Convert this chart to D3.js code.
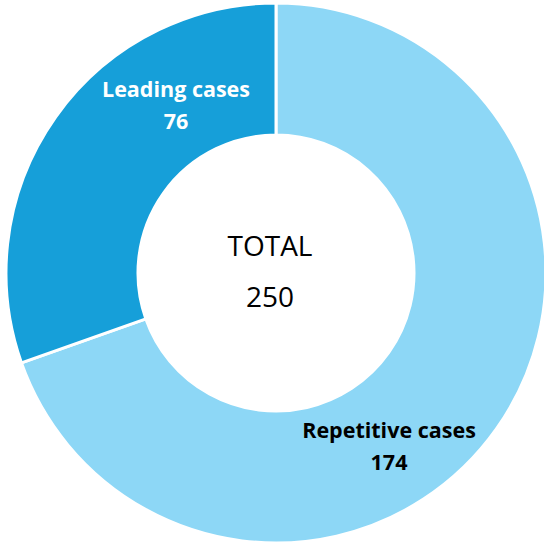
<!DOCTYPE html>
<html>
<head>
<meta charset="utf-8">
<script src="https://cdn.jsdelivr.net/npm/d3@7"></script>
<style>
body { margin: 0; background: #fff; }
</style>
</head>
<body>
<script>
// chart data
var categories = ["Repetitive cases", "Leading cases"];
var values = [174, 76];
var colors = ["#8DD7F6", "#169FD9"];
var labelColors = ["#000000", "#ffffff"];
var totalLabel = "TOTAL";

var width = 544, height = 544;
var cx = 276, cy = 273;
var outerR = 270, innerR = 138;

var svg = d3.select("body")
	.append("svg")
	.attr("width", width)
	.attr("height", height);

var g = svg.append("g").attr("transform", "translate(" + cx + "," + cy + ")");

var pie = d3.pie().sort(null).value(function(d) { return d; });
var arc = d3.arc().innerRadius(innerR).outerRadius(outerR);

var arcs = pie(values);

g.selectAll("path")
	.data(arcs)
	.enter()
	.append("path")
	.attr("d", arc)
	.attr("fill", function(d, i) { return colors[i]; })
	.attr("stroke", "#fff")
	.attr("stroke-width", 3);

// label spots, hand placed like the original (offset from centre)
var labelPos = [[113, 165], [-100, -176]];

var labels = g.selectAll("text.lbl")
	.data(arcs)
	.enter()
	.append("text")
	.attr("class", "lbl")
	.attr("text-anchor", "middle")
	.attr("font-family", "'Open Sans', sans-serif")
	.attr("font-weight", "bold")
	.attr("font-size", 21.5)
	.attr("fill", function(d, i) { return labelColors[i]; })
	.attr("transform", function(d, i) { return "translate(" + labelPos[i][0] + "," + labelPos[i][1] + ")"; });

labels.append("tspan")
	.attr("x", 0)
	.attr("y", 0)
	.text(function(d, i) { return categories[i]; });
labels.append("tspan")
	.attr("x", 0)
	.attr("y", 32)
	.text(function(d) { return d.value; });

var total = d3.sum(values);
var center = g.append("text")
	.attr("text-anchor", "middle")
	.attr("font-family", "'Open Sans', sans-serif")
	.attr("font-size", 28)
	.attr("fill", "#000");
center.append("tspan").attr("x", -6).attr("y", -17).text(totalLabel);
center.append("tspan").attr("x", -6).attr("y", 34).text(total);
</script>
</body>
</html>
